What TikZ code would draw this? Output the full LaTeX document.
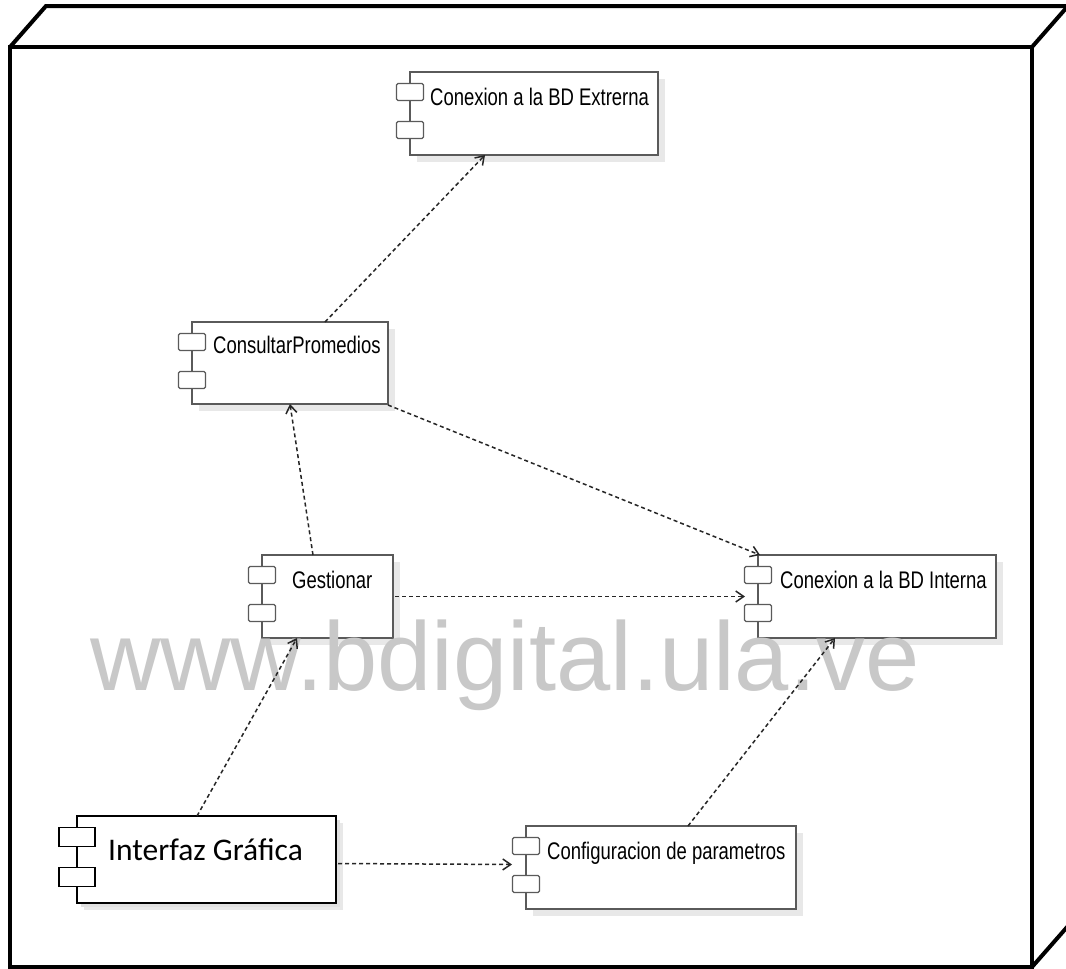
\documentclass[tikz,border=0pt]{standalone}
\usepackage{fontspec}
\usetikzlibrary{arrows.meta,calc,shadows}
\newfontfamily\narrowfont[FakeStretch=0.77]{Liberation Sans}
\newfontfamily\calfont{Carlito}
\newfontfamily\wmfont{Liberation Sans}
\definecolor{boxline}{HTML}{5A5A5A}
\definecolor{wmgray}{HTML}{C8C8C8}
\newcommand\mycomp[5]{%
  \node[compbox, minimum width=#4pt, minimum height=#5pt, anchor=north west] (#1) at (#2,#3) {};
  \node[icon] (#1-a) at ($(#1.north west)+(0,20)$) {};
  \node[icon] (#1-b) at ($(#1.north west)+(0,58)$) {};
}
\begin{document}
\begin{tikzpicture}[x=1pt,y=-1pt,
  compbox/.style={draw=boxline, line width=1.4pt, fill=white, inner sep=0pt, outer sep=0pt,
    drop shadow={shadow xshift=7pt, shadow yshift=-7pt, fill=black!9, opacity=1}},
  icon/.style={draw=boxline, line width=1.2pt, fill=white, minimum width=27pt, minimum height=17pt,
    rounded corners=1.5pt, inner sep=0pt},
  lbl/.style={font=\narrowfont\fontsize{24}{28}\selectfont, inner sep=0pt, anchor=west},
  dep/.style={draw=black!85, line width=1.5pt, dash pattern=on 4pt off 3pt,
    -{Straight Barb[length=8pt,width=11pt]}},
  outer/.style={draw=black, line width=4pt, line join=miter}
]
\useasboundingbox (0,0) rectangle (1066,969);
\clip (0,0) rectangle (1066,969);
\fill[white] (0,0) rectangle (1066,969);

% 3D node
\draw[outer] (10,47) rectangle (1032,967);
\draw[outer] (10,47) -- (46,6) -- (1075,6);
\draw[outer] (1032,47) -- (1075,-2);
\draw[outer] (1032,967) -- (1075,918);

% components
\mycomp{ext}{410}{72}{248}{83}
\mycomp{cp}{192}{322}{196}{82}
\mycomp{ges}{262}{555}{131}{83}
\mycomp{int}{758}{555}{238}{83}
\mycomp{conf}{526}{826}{270}{83}

\node[compbox, draw=black, line width=1.6pt, minimum width=259pt, minimum height=87pt, anchor=north west,
  drop shadow={shadow xshift=4pt, shadow yshift=-4pt, fill=black!12, opacity=1}] (ifz) at (77,816) {};
\node[icon, draw=black, line width=1.4pt, rounded corners=0pt, minimum width=36pt, minimum height=19pt] (ifz-a) at ($(ifz.north west)+(0,21)$) {};
\node[icon, draw=black, line width=1.4pt, rounded corners=0pt, minimum width=36pt, minimum height=19pt] (ifz-b) at ($(ifz.north west)+(0,61)$) {};

% labels
\node[lbl] (ext-t) at (430,97) {Conexion a la BD Extrerna};
\node[lbl] (cp-t) at (213,345) {ConsultarPromedios};
\node[lbl] (ges-t) at (292,580) {Gestionar};
\node[lbl] (int-t) at (780,580) {Conexion a la BD Interna};
\node[lbl] (conf-t) at (547,853) {Configuracion de parametros};
\node[font=\calfont\fontsize{31.5}{36}\selectfont, inner sep=0pt, anchor=west] (ifz-t) at (108,850) {Interfaz Gráfica};

% watermark
\node[font=\wmfont\fontsize{97.5}{110}\selectfont, text=wmgray, inner sep=0pt, anchor=base west] (wm) at (90,690) {www.bdigital.ula.ve};

% connectors
\draw[dep] ($(cp.north west)+(133,0)$) -- ($(ext.south west)+(75,0)$);
\draw[dep] ($(ges.north west)+(51,0)$) -- ($(cp.south west)+(98,0)$);
\draw[dep] ($(cp.south east)+(0,1)$) -- ($(int.north west)+(2,0)$);
\draw[dep] ($(ges.east)+(2,0)$) -- ($(int.west)+(-13,0)$);
\draw[dep] ($(ifz.north west)+(120,0)$) -- ($(ges.south west)+(35,0)$);
\draw[dep] ($(ifz.east)+(2,4)$) -- ($(conf.west)+(-14,-3)$);
\draw[dep] ($(conf.north west)+(162,0)$) -- ($(int.south west)+(77,0)$);
\end{tikzpicture}
\end{document}
